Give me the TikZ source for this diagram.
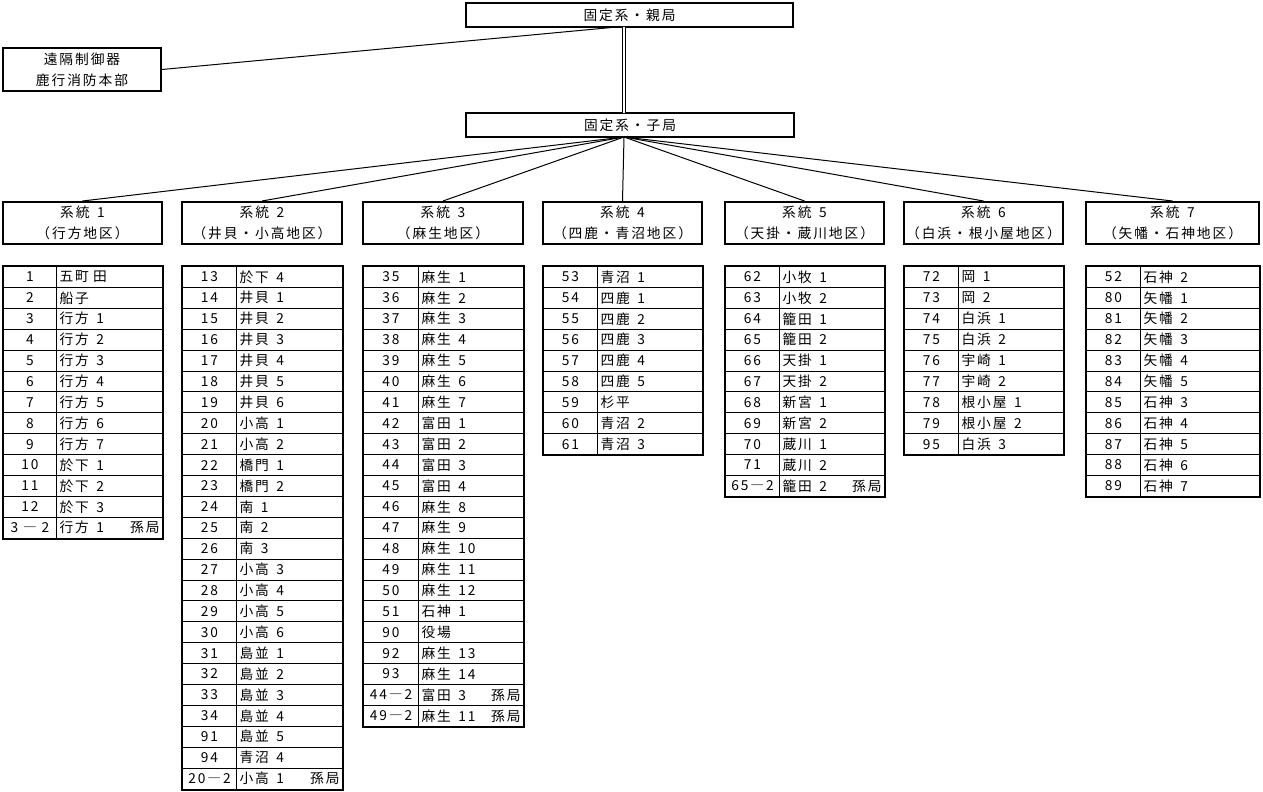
\documentclass[tikz,border=0pt]{standalone}
\usepackage{fontspec}
\setmainfont{Noto Sans CJK JP}[LetterSpace=14]
\newcommand\sk{\hspace{0.55em}}
\newcommand\systable[6]{%
  \pgfmathsetlengthmacro\numw{(#3-#2)*0.75pt}%
  \pgfmathsetlengthmacro\namew{(#4-#3-6)*0.75pt}%
  \foreach \n/\m [count=\i] in {#6} {
    \node[numcell, minimum width=\numw] (#1n\i) at (#2,{266+(\i-1)*20.9}) {\n};
    \node[namecell, text width=\namew] (#1m\i) at (#3,{266+(\i-1)*20.9}) {\m};
  }
  \draw[line width=1.5pt] (#1n1.north west) rectangle (#1m#5.south east);
}
\begin{document}
\begin{tikzpicture}[x=0.75pt,y=-0.75pt,
  every node/.style={font=\fontsize{10.3}{15.75}\selectfont},
  box/.style={draw, line width=1.5pt, inner sep=0pt, align=center},
  numcell/.style={draw, line width=0.75pt, anchor=north west, inner sep=0pt, minimum height=15.675pt},
  namecell/.style={draw, line width=0.75pt, anchor=north west, inner xsep=2.25pt, inner ysep=0pt, minimum height=15.675pt, align=left},
  link/.style={line width=0.75pt}
]
\useasboundingbox (0,0) rectangle (1263,792);

% top boxes
\node[box, minimum width=327*0.75pt, minimum height=24*0.75pt] (parent) at (629.5,15) {固定系・親局};
\node[box, minimum width=328*0.75pt, minimum height=24*0.75pt] (child) at (630,125) {固定系・子局};
\node[box, minimum width=158*0.75pt, minimum height=43*0.75pt] (remote) at (82,69.5) {遠隔制御器\\鹿行消防本部};

\coordinate (pb) at (624,27);
\coordinate (ct) at (624,113);
\coordinate (cb) at (624,137);
\coordinate (rl) at (617,27);

\draw[line width=0.75pt, double, double distance=1.5pt] (pb) -- (ct);
\draw[link] (remote.east) -- (rl);

% system headers
\node[box, minimum width=159*0.75pt, minimum height=42*0.75pt] (h1) at (82.5,223) {系統\sk 1\\（行方地区）};
\node[box, minimum width=160*0.75pt, minimum height=42*0.75pt] (h2) at (262,223) {系統\sk 2\\（井貝・小高地区）};
\node[box, minimum width=160*0.75pt, minimum height=42*0.75pt] (h3) at (443,223) {系統\sk 3\\（麻生地区）};
\node[box, minimum width=159*0.75pt, minimum height=42*0.75pt] (h4) at (622.5,223) {系統\sk 4\\（四鹿・青沼地区）};
\node[box, minimum width=159*0.75pt, minimum height=42*0.75pt] (h5) at (804.5,223) {系統\sk 5\\（天掛・蔵川地区）};
\node[box, minimum width=159*0.75pt, minimum height=42*0.75pt] (h6) at (983.5,223) {系統\sk 6\\（白浜・根小屋地区）};
\node[box, minimum width=173*0.75pt, minimum height=42*0.75pt] (h7) at (1172.5,223) {系統\sk 7\\（矢幡・石神地区）};

\foreach \k in {1,...,7} \draw[link] (cb) -- (h\k.north);

% tables
\systable{a}{3}{56}{162}{13}{1/五町\hspace{0.3em}田, 2/船子, 3/行方\sk 1, 4/行方\sk 2, 5/行方\sk 3, 6/行方\sk 4, 7/行方\sk 5, 8/行方\sk 6, 9/行方\sk 7, 10/於下\sk 1, 11/於下\sk 2, 12/於下\sk 3, 3\hspace{0.35em}―\hspace{0.35em}2/行方\sk 1\hfill 孫局}
\systable{b}{182}{236}{342}{25}{13/於下\sk 4, 14/井貝\sk 1, 15/井貝\sk 2, 16/井貝\sk 3, 17/井貝\sk 4, 18/井貝\sk 5, 19/井貝\sk 6, 20/小高\sk 1, 21/小高\sk 2, 22/橋門\sk 1, 23/橋門\sk 2, 24/南\sk 1, 25/南\sk 2, 26/南\sk 3, 27/小高\sk 3, 28/小高\sk 4, 29/小高\sk 5, 30/小高\sk 6, 31/島並\sk 1, 32/島並\sk 2, 33/島並\sk 3, 34/島並\sk 4, 91/島並\sk 5, 94/青沼\sk 4, 20―2/小高\sk 1\hfill 孫局}
\systable{c}{363}{418}{523}{22}{35/麻生\sk 1, 36/麻生\sk 2, 37/麻生\sk 3, 38/麻生\sk 4, 39/麻生\sk 5, 40/麻生\sk 6, 41/麻生\sk 7, 42/富田\sk 1, 43/富田\sk 2, 44/富田\sk 3, 45/富田\sk 4, 46/麻生\sk 8, 47/麻生\sk 9, 48/麻生\sk 10, 49/麻生\sk 11, 50/麻生\sk 12, 51/石神\sk 1, 90/役場, 92/麻生\sk 13, 93/麻生\sk 14, 44―2/富田\sk 3\hfill 孫局, 49―2/麻生\sk 11\hfill 孫局}
\systable{d}{543}{597}{702}{9}{53/青沼\sk 1, 54/四鹿\sk 1, 55/四鹿\sk 2, 56/四鹿\sk 3, 57/四鹿\sk 4, 58/四鹿\sk 5, 59/杉平, 60/青沼\sk 2, 61/青沼\sk 3}
\systable{e}{725}{779}{884}{11}{62/小牧\sk 1, 63/小牧\sk 2, 64/籠田\sk 1, 65/籠田\sk 2, 66/天掛\sk 1, 67/天掛\sk 2, 68/新宮\sk 1, 69/新宮\sk 2, 70/蔵川\sk 1, 71/蔵川\sk 2, 65―2/籠田\sk 2\hfill 孫局}
\systable{f}{904}{958}{1063}{9}{72/岡\sk 1, 73/岡\sk 2, 74/白浜\sk 1, 75/白浜\sk 2, 76/宇崎\sk 1, 77/宇崎\sk 2, 78/根小屋\sk 1, 79/根小屋\sk 2, 95/白浜\sk 3}
\systable{g}{1086}{1140}{1259}{11}{52/石神\sk 2, 80/矢幡\sk 1, 81/矢幡\sk 2, 82/矢幡\sk 3, 83/矢幡\sk 4, 84/矢幡\sk 5, 85/石神\sk 3, 86/石神\sk 4, 87/石神\sk 5, 88/石神\sk 6, 89/石神\sk 7}
\end{tikzpicture}
\end{document}
